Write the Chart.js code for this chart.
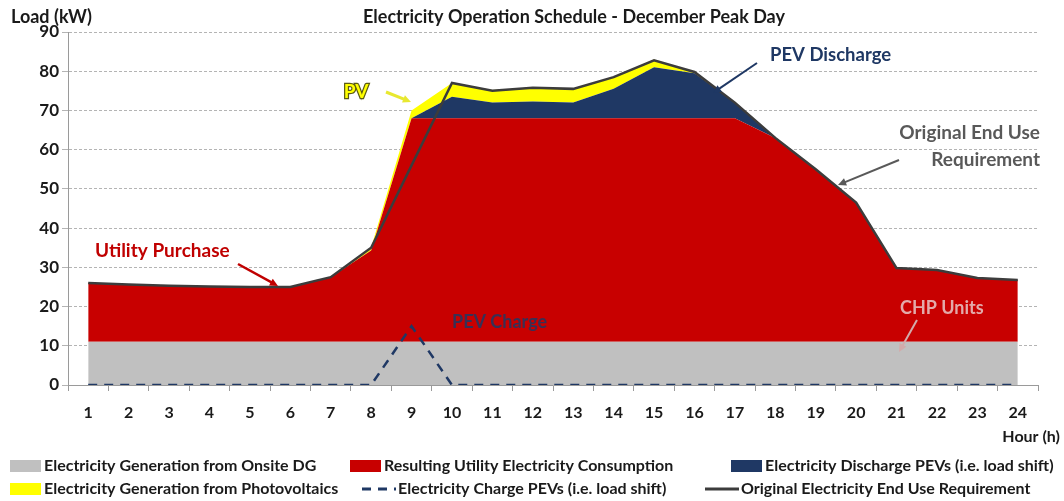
<!DOCTYPE html>
<html>
<head>
<meta charset="utf-8">
<title>Electricity Operation Schedule - December Peak Day</title>
<script src="https://cdn.jsdelivr.net/npm/chart.js@4.4.1/dist/chart.umd.min.js"></script>
<style>
  body { margin: 0; background: #fff; }
  #wrap { width: 1064px; height: 501px; }
</style>
</head>
<body>
<div id="wrap"><canvas id="schedule" width="1064" height="501"></canvas></div>
<script>
// hourly values (kW)
const hours = ['1','2','3','4','5','6','7','8','9','10','11','12','13','14','15','16','17','18','19','20','21','22','23','24'];
const yTicks = [0, 10, 20, 30, 40, 50, 60, 70, 80, 90];

const chpUnits = [11,11,11,11,11,11,11,11,11,11,11,11,11,11,11,11,11,11,11,11,11,11,11,11];
const utilityPurchase = [15,14.6,14.3,14.1,14,14,16.5,23.3,57,57,57,57,57,57,57,57,57,52,44,35.5,18.8,18.3,16.3,15.8];
const pevDischarge = [0,0,0,0,0,0,0,0,0,5.5,4,4.3,4,7.5,13,11.5,4,0,0,0,0,0,0,0];
const pvGeneration = [0,0,0,0,0,0,0,0.7,2,3.5,3.2,3.5,3.5,3,2,0.3,0,0,0,0,0,0,0,0];
const pevCharge = [0,0,0,0,0,0,0,0,15,0,0,0,0,0,0,0,0,0,0,0,0,0,0,0];
const originalDemand = [26,25.6,25.3,25.1,25,25,27.5,35,56,77,75,75.8,75.5,78.5,82.8,79.8,72,63,55,46.5,29.8,29.3,27.3,26.8];

const FONT = "Lato, 'Open Sans', sans-serif";

function arrow(ctx, x1, y1, x2, y2, color, w) {
  const ang = Math.atan2(y2 - y1, x2 - x1);
  const head = 9;
  ctx.save();
  ctx.strokeStyle = color;
  ctx.fillStyle = color;
  ctx.lineWidth = w;
  ctx.beginPath();
  ctx.moveTo(x1, y1);
  ctx.lineTo(x2 - Math.cos(ang) * head * 0.7, y2 - Math.sin(ang) * head * 0.7);
  ctx.stroke();
  ctx.beginPath();
  ctx.moveTo(x2, y2);
  ctx.lineTo(x2 - head * Math.cos(ang - 0.45), y2 - head * Math.sin(ang - 0.45));
  ctx.lineTo(x2 - head * Math.cos(ang + 0.45), y2 - head * Math.sin(ang + 0.45));
  ctx.closePath();
  ctx.fill();
  ctx.restore();
}

function label(ctx, text, x, y, color, size, align) {
  ctx.font = 'bold ' + size + 'px ' + FONT;
  ctx.fillStyle = color;
  ctx.textAlign = align || 'left';
  ctx.textBaseline = 'middle';
  ctx.fillText(text, x, y);
}

// legend slots: two rows of three, like the original
const legendSlots = [
  { x: 10, y: 466 }, { x: 350, y: 466 }, { x: 731, y: 466 },
  { x: 10, y: 489 }, { x: 362, y: 489 }, { x: 705, y: 489 }
];

const overlay = {
  id: 'overlay',
  afterDraw(chart) {
    const ctx = chart.ctx;
    ctx.save();

    // titles
    label(ctx, 'Electricity Operation Schedule - December Peak Day', 574, 17, '#1a1a1a', 18, 'center');
    label(ctx, 'Load (kW)', 11, 17, '#1a1a1a', 18);
    label(ctx, 'Hour (h)', 1060, 437, '#1a1a1a', 16, 'right');

    // callouts
    ctx.font = 'bold 19px ' + FONT;
    ctx.textAlign = 'center';
    ctx.textBaseline = 'middle';
    ctx.lineWidth = 2.5;
    ctx.strokeStyle = '#5b5b12';
    ctx.strokeText('PV', 356, 92);
    ctx.fillStyle = '#ffff00';
    ctx.fillText('PV', 356, 92);
    arrow(ctx, 386, 92, 411, 102, '#e8e830', 3);

    label(ctx, 'PEV Discharge', 770, 55, '#1f3864', 18.5);
    arrow(ctx, 757, 63, 713, 93, '#1f3864', 2);

    label(ctx, 'Original End Use', 1040, 133, '#595959', 19, 'right');
    label(ctx, 'Requirement', 1040, 160, '#595959', 19, 'right');
    arrow(ctx, 899, 160, 838, 185, '#595959', 2);

    label(ctx, 'Utility Purchase', 95, 251, '#c00000', 19);
    arrow(ctx, 238, 264, 278, 286, '#c00000', 2.5);

    label(ctx, 'PEV Charge', 452, 322, 'rgba(31,56,100,0.85)', 18);

    label(ctx, 'CHP Units', 900, 308, '#e3aaaa', 18);
    arrow(ctx, 917, 320, 899, 352, '#d2aaaa', 2);

    // legend
    chart.data.datasets.forEach((ds, i) => {
      const s = legendSlots[i];
      let tx;
      if (ds.fill !== false) {
        ctx.fillStyle = ds.backgroundColor;
        ctx.fillRect(s.x, s.y - 6, 31, 12);
        tx = s.x + 34;
      } else {
        ctx.strokeStyle = ds.borderColor;
        ctx.lineWidth = 3;
        ctx.setLineDash(ds.borderDash || []);
        ctx.beginPath();
        ctx.moveTo(s.x, s.y);
        ctx.lineTo(s.x + 34, s.y);
        ctx.stroke();
        ctx.setLineDash([]);
        tx = s.x + 36;
      }
      label(ctx, ds.label, tx, s.y, '#1a1a1a', 16);
    });

    ctx.restore();
  }
};

new Chart(document.getElementById('schedule'), {
  type: 'line',
  data: {
    labels: hours,
    datasets: [
      { label: 'Electricity Generation from Onsite DG', data: chpUnits, stack: 'supply',
        backgroundColor: '#c0c0c0', fill: 'origin', borderWidth: 0, order: 1 },
      { label: 'Resulting Utility Electricity Consumption', data: utilityPurchase, stack: 'supply',
        backgroundColor: '#c80000', fill: '-1', borderWidth: 0, order: 1 },
      { label: 'Electricity Discharge PEVs (i.e. load shift)', data: pevDischarge, stack: 'supply',
        backgroundColor: '#1f3864', fill: '-1', borderWidth: 0, order: 1 },
      { label: 'Electricity Generation from Photovoltaics', data: pvGeneration, stack: 'supply',
        backgroundColor: '#ffff00', fill: '-1', borderWidth: 0, order: 1 },
      { label: 'Electricity Charge PEVs (i.e. load shift)', data: pevCharge, stack: 'charge',
        borderColor: '#1f3864', borderWidth: 2.5, borderDash: [9, 7], fill: false, order: 0 },
      { label: 'Original Electricity End Use Requirement', data: originalDemand, stack: 'original',
        borderColor: '#3c3c3c', borderWidth: 2.5, fill: false, order: 0 }
    ]
  },
  options: {
    responsive: false,
    animation: false,
    events: [],
    elements: { point: { radius: 0 }, line: { tension: 0 } },
    layout: { padding: { top: 32, right: 26, left: 0, bottom: 0 } },
    plugins: { legend: { display: false }, tooltip: { enabled: false }, title: { display: false } },
    scales: {
      x: {
        offset: true,
        grid: { offset: true, drawOnChartArea: false, tickLength: 6, color: '#9a9a9a' },
        border: { color: '#9a9a9a' },
        ticks: { color: '#1a1a1a', padding: 12, font: { family: FONT, size: 16, weight: 'bold' } },
        afterFit: s => { s.height = 116; }
      },
      y: {
        stacked: true,
        min: 0,
        max: 90,
        afterBuildTicks: s => { s.ticks = yTicks.map(v => ({ value: v })); },
        grid: { color: '#b4b4b4', tickLength: 6 },
        border: { color: '#9a9a9a', dash: [3, 2] },
        ticks: { color: '#1a1a1a', padding: 3, font: { family: FONT, size: 17, weight: 'bold' } },
        afterFit: s => { s.width = 68; }
      }
    }
  },
  plugins: [overlay]
});
</script>
</body>
</html>
